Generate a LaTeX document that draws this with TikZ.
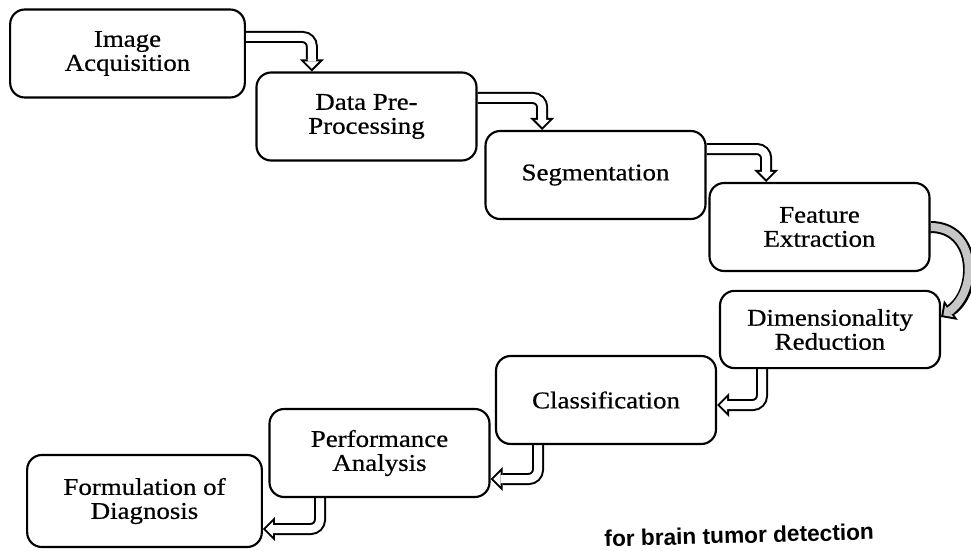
\documentclass[tikz,border=0pt]{standalone}
\usepackage{fontspec}
\setmainfont{Liberation Serif}[FakeStretch=1.12, FakeBold=0.6]
\setsansfont{Liberation Sans}
\usepackage{tikz}
\usetikzlibrary{arrows.meta, backgrounds}

\begin{document}
\begin{tikzpicture}[x=0.75pt, y=-0.75pt,
    stage/.style={draw, line width=1.6pt, rounded corners=11pt, fill=white, align=center,
        minimum width=165pt, minimum height=66pt, inner sep=2pt,
        font=\fontsize{18}{18}\selectfont},
    hollow/.style={line width=9pt, rounded corners=7pt,
        -{Triangle[length=9pt, width=18pt, line width=0pt]},
        postaction={draw=#1, line width=6pt, shorten >=2.1pt,
            -{Triangle[length=5.4pt, width=10.8pt, line width=0pt]}}},
    hollow/.default=white]
    \useasboundingbox (0,0) rectangle (971,550);

    % Stages
    \node[stage, minimum width=176pt] (img) at (127.5,53.5) {Image\\Acquisition};
    \node[stage] (pre) at (366.5,116.5) {Data Pre-\\Processing};
    \node[stage] (seg) at (595.5,175) {Segmentation};
    \node[stage] (feat) at (819.5,227) {Feature\\Extraction};
    \node[stage, minimum height=58pt] (dim) at (830,329.5) {Dimensionality\\Reduction};
    \node[stage] (cls) at (606,400) {Classification};
    \node[stage] (perf) at (379.5,453) {Performance\\Analysis};
    \node[stage, minimum width=176pt, minimum height=69pt] (form) at (144.5,501) {Formulation of\\Diagnosis};

    % Hollow arrows (behind the boxes)
    \begin{scope}[on background layer]
        \draw[hollow] ([yshift=12.4pt]img.east) -| ([xshift=-41pt]pre.north);
        \draw[hollow] ([yshift=13.9pt]pre.east) -| ([xshift=-40pt]seg.north);
        \draw[hollow] ([yshift=19.5pt]seg.east) -| ([xshift=-40pt]feat.north);
        \draw[hollow=gray!45] (feat.east) to[out=0, in=35, looseness=1.3] ([yshift=9.4pt]dim.east);
        \draw[hollow] ([xshift=-51pt]dim.south) |- ([yshift=-3.8pt]cls.east);
        \draw[hollow] ([xshift=-51pt]cls.south) |- ([yshift=-19.5pt]perf.east);
        \draw[hollow] ([xshift=-44.6pt]perf.south) |- ([yshift=-21pt]form.east);
    \end{scope}

    % Caption at the foot of the page
    \node[font=\fontsize{17}{17}\selectfont\sffamily\bfseries, anchor=north west,
        inner sep=0pt, rotate=1.5] (cap) at (604,530) {for brain tumor detection};
\end{tikzpicture}
\end{document}
